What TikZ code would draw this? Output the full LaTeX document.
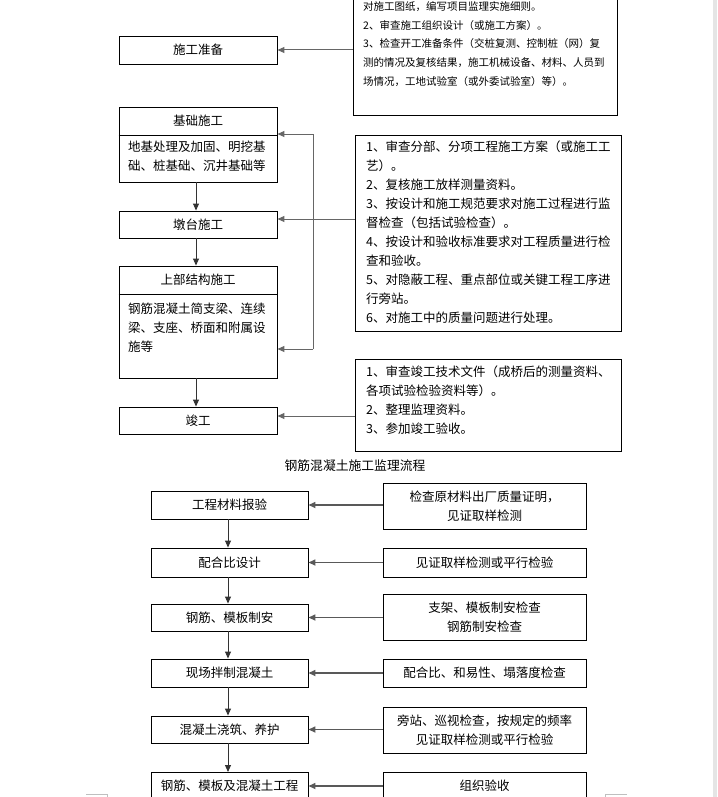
\documentclass[tikz,border=0pt]{standalone}
\usepackage{fontspec}
\setmainfont{Noto Sans CJK SC}
\usetikzlibrary{arrows.meta}
\begin{document}
\begin{tikzpicture}[x=1pt,y=-1pt,
  box/.style={draw, line width=0.9pt, inner sep=0pt, font=\fontsize{12.5}{19}\selectfont, align=center},
  body/.style={inner sep=0pt, anchor=north west, align=left, font=\fontsize{12.5}{19}\selectfont},
  small/.style={inner sep=0pt, anchor=north west, align=left, font=\fontsize{10.5}{18.7}\selectfont},
  dnar/.style={-{Triangle[length=7pt,width=6pt]}, line width=0.9pt, draw=black!80},
  fbar/.style={-{Triangle[length=7pt,width=6pt]}, line width=1pt, draw=black!60},
  fbln/.style={line width=1pt, draw=black!60},
  lwar/.style={-{Triangle[length=7pt,width=6pt]}, line width=1.6pt, draw=black!65}]
\useasboundingbox (0,0) rectangle (717,797);
\begin{scope}
\clip (0,0) rectangle (717,797);
\fill[black!10] (713,0) rectangle (717,797);
% ---------- upper part ----------
\node[box, minimum width=264, minimum height=140, anchor=south west] (tb) at (353,116) {};
\node[small] (tbt) at (363,1.5) {对施工图纸，编写项目监理实施细则。\\2、审查施工组织设计（或施工方案）。\\3、检查开工准备条件（交桩复测、控制桩（网）复\\测的情况及复核结果，施工机械设备、材料、人员到\\场情况，工地试验室（或外委试验室）等）。};
\node[box, minimum width=158, minimum height=28] (zb) at (198,50) {施工准备};

\node[box, minimum width=158, minimum height=75] (jc) at (198,144.5) {};
\draw[line width=0.9pt] (jc.west |- 0,135) -- (jc.east |- 0,135);
\node[inner sep=0pt, font=\fontsize{12.5}{19}\selectfont] (jct) at (198,121) {基础施工};
\node[body] (jcb) at (128,140.5) {地基处理及加固、明挖基\\础、桩基础、沉井基础等};

\node[box, minimum width=158, minimum height=27] (dt) at (198,224.5) {墩台施工};

\node[box, minimum width=158, minimum height=112] (sb) at (198,322) {};
\draw[line width=0.9pt] (sb.west |- 0,294) -- (sb.east |- 0,294);
\node[inner sep=0pt, font=\fontsize{12.5}{19}\selectfont] (sbt) at (198,280) {上部结构施工};
\node[body] (sbb) at (128,302.5) {钢筋混凝土简支梁、连续\\梁、支座、桥面和附属设\\施等};

\node[box, minimum width=158, minimum height=27] (jg) at (198,420.5) {竣工};

\node[box, minimum width=266, minimum height=196, anchor=north west] (b3) at (355,135) {};
\node[body] (b3t) at (366,141) {1、审查分部、分项工程施工方案（或施工工\\艺）。\\2、复核施工放样测量资料。\\3、按设计和施工规范要求对施工过程进行监\\督检查（包括试验检查）。\\4、按设计和验收标准要求对工程质量进行检\\查和验收。\\5、对隐蔽工程、重点部位或关键工程工序进\\行旁站。\\6、对施工中的质量问题进行处理。};

\node[box, minimum width=266, minimum height=92, anchor=north west] (b4) at (355,359) {};
\node[body] (b4t) at (366,366) {1、审查竣工技术文件（成桥后的测量资料、\\各项试验检验资料等）。\\2、整理监理资料。\\3、参加竣工验收。};

\draw[fbar] (tb.west |- zb.east) -- (zb.east);
\draw[dnar] (jc.south -| 196,0) -- (dt.north -| 196,0);
\draw[dnar] (dt.south -| 196,0) -- (sb.north -| 196,0);
\draw[dnar] (sb.south -| 196,0) -- (jg.north -| 196,0);
\coordinate (ft) at (313,134);
\coordinate (fb) at (313,349);
\coordinate (fm) at (313,219);
\draw[fbln] (ft) -- (fb);
\draw[fbar] (ft) -- (jc.east |- ft);
\draw[fbar] (fb) -- (sb.east |- fb);
\draw[fbar] (b3.west |- fm) -- (dt.east |- fm);
\coordinate (fj) at (313,416);
\draw[fbar] (b4.west |- fj) -- (jg.east |- fj);

% ---------- lower part ----------
\node[inner sep=0pt, font=\fontsize{12.8}{19}\selectfont] (cap) at (355,466) {钢筋混凝土施工监理流程};

\node[box, minimum width=157, minimum height=28] (l1) at (229.5,505) {工程材料报验};
\node[box, minimum width=157, minimum height=29] (l2) at (229.5,562.5) {配合比设计};
\node[box, minimum width=157, minimum height=27] (l3) at (229.5,617.5) {钢筋、模板制安};
\node[box, minimum width=157, minimum height=28] (l4) at (229.5,673) {现场拌制混凝土};
\node[box, minimum width=157, minimum height=27] (l5) at (229.5,729.5) {混凝土浇筑、养护};
\node[box, minimum width=157, minimum height=40, anchor=north] (l6) at (229.5,772) {};
\node[inner sep=0pt, font=\fontsize{12.5}{19}\selectfont] (l6t) at (229.5,786) {钢筋、模板及混凝土工程};

\node[box, minimum width=203, minimum height=46] (r1) at (484.5,506) {检查原材料出厂质量证明，\\见证取样检测};
\node[box, minimum width=203, minimum height=29] (r2) at (484.5,562.5) {见证取样检测或平行检验};
\node[box, minimum width=203, minimum height=46] (r3) at (484.5,617) {支架、模板制安检查\\钢筋制安检查};
\node[box, minimum width=203, minimum height=28] (r4) at (484.5,673) {配合比、和易性、塌落度检查};
\node[box, minimum width=203, minimum height=46] (r5) at (484.5,730) {旁站、巡视检查，按规定的频率\\见证取样检测或平行检验};
\node[box, minimum width=203, minimum height=40, anchor=north] (r6) at (484.5,772) {};
\node[inner sep=0pt, font=\fontsize{12.5}{19}\selectfont] (r6t) at (484.5,786) {组织验收};

\foreach \a/\b in {l1/l2,l2/l3,l3/l4,l4/l5,l5/l6}
  \draw[dnar] (\a.south -| 228,0) -- (\b.north -| 228,0);
\foreach \r/\l in {r1/l1,r2/l2,r3/l3,r4/l4,r5/l5}
  \draw[lwar] (\r.west |- \l.east) -- (\l.east);
\draw[lwar] (r6.west |- l6t) -- (l6.east |- l6t);

% page corner marks
\draw[black!25, line width=0.8pt] (86,794) -- (107,794) -- (107,797);
\draw[black!25, line width=0.8pt] (627,794) -- (605,794) -- (605,797);
\end{scope}
\end{tikzpicture}
\end{document}
